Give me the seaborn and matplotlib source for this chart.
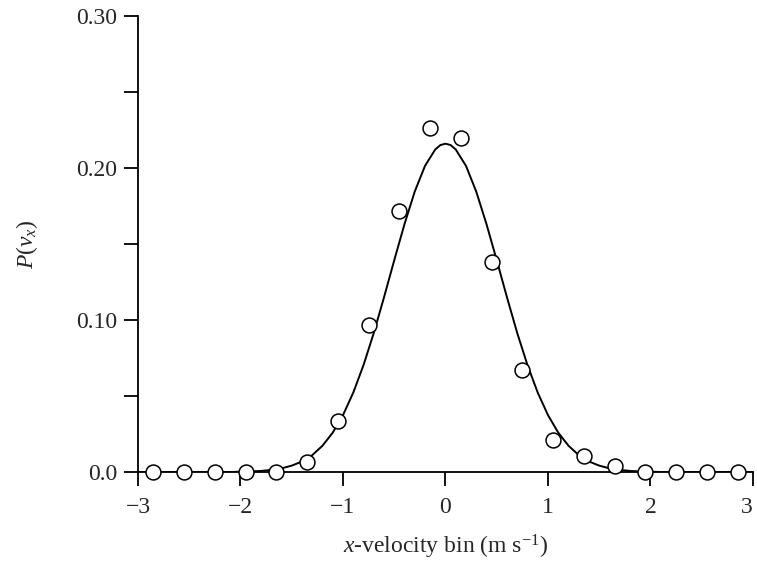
import numpy as np
import matplotlib
matplotlib.use("Agg")
import matplotlib.pyplot as plt
import seaborn as sns

# measured probabilities per x-velocity bin (bin width 0.3 m/s)
bin_centers = [-2.85, -2.55, -2.25, -1.95, -1.65, -1.35, -1.05, -0.75, -0.45, -0.15,
               0.15, 0.45, 0.75, 1.05, 1.35, 1.65, 1.95, 2.25, 2.55, 2.85]
bin_probs = [0.0, 0.0, 0.0, 0.0, 0.0, 0.0068, 0.0336, 0.097, 0.172, 0.226,
             0.220, 0.138, 0.067, 0.021, 0.0107, 0.004, 0.0, 0.0, 0.0, 0.0]

# smooth theoretical curve (left half, mirrored)
half_x = [-3.0, -2.9, -2.8, -2.7, -2.6, -2.5, -2.4, -2.3, -2.2, -2.1,
          -2.0, -1.9, -1.8, -1.7, -1.6, -1.5, -1.4, -1.3, -1.2, -1.1,
          -1.0, -0.9, -0.8, -0.7, -0.6, -0.5, -0.4, -0.3, -0.2, -0.1, -0.05]
half_y = [0.0] * 10 + [
          0.0002, 0.0004, 0.0007, 0.0014, 0.0024, 0.0042, 0.0069, 0.0111, 0.0173, 0.0259,
          0.0374, 0.0522, 0.0703, 0.0914, 0.1149, 0.1393, 0.1631, 0.1845, 0.2014, 0.2122, 0.2151]
curve_x = half_x + [0.0] + [-v for v in half_x[::-1]]
curve_y = half_y + [0.216] + half_y[::-1]

xticks = [-3, -2, -1, 0, 1, 2, 3]
yticks = [0.0, 0.10, 0.20, 0.30]
ytick_labels = ["0.0", "0.10", "0.20", "0.30"]

sns.set_style("ticks")
plt.rcParams['font.family'] = ['Liberation Serif', 'DejaVu Serif']
plt.rcParams['mathtext.fontset'] = 'custom'
plt.rcParams['mathtext.rm'] = 'Liberation Serif'
plt.rcParams['mathtext.it'] = 'Liberation Serif:italic'

fig = plt.figure(figsize=(7.57, 5.64), dpi=100)
ax = fig.add_axes([0.1823, 0.1631, 0.8124, 0.8085])

sns.lineplot(x=curve_x, y=curve_y, ax=ax, color="black", linewidth=1.4,
             sort=False, zorder=3)
sns.scatterplot(x=bin_centers, y=bin_probs, ax=ax, marker="o", s=115,
                facecolor="white", edgecolor="black", linewidth=1.1,
                zorder=5, clip_on=False)

ax.set_xlim(-3, 3)
ax.set_ylim(0, 0.30)
ax.set_xticks(xticks)
ax.set_yticks(yticks)
ax.set_yticklabels(ytick_labels)
ax.set_yticks([0.05, 0.15, 0.25], minor=True)

sns.despine(ax=ax)
for side in ["left", "bottom"]:
    ax.spines[side].set_linewidth(1.3)
    ax.spines[side].set_color("black")
ax.tick_params(which="both", direction="out", length=10, width=1.3,
               color="black", labelsize=17)
ax.tick_params(axis="x", pad=8)
ax.tick_params(axis="y", pad=5)
# last x label sits at the figure edge: keep it inside
ax.get_xticklabels()[-1].set_horizontalalignment("right")

ax.set_xlabel("$x$-velocity bin (m s$^{-1}$)", fontsize=17, labelpad=11)
ax.set_ylabel("$P(v_x)$", fontsize=17, labelpad=26)

fig.savefig("out.png", dpi=100)
